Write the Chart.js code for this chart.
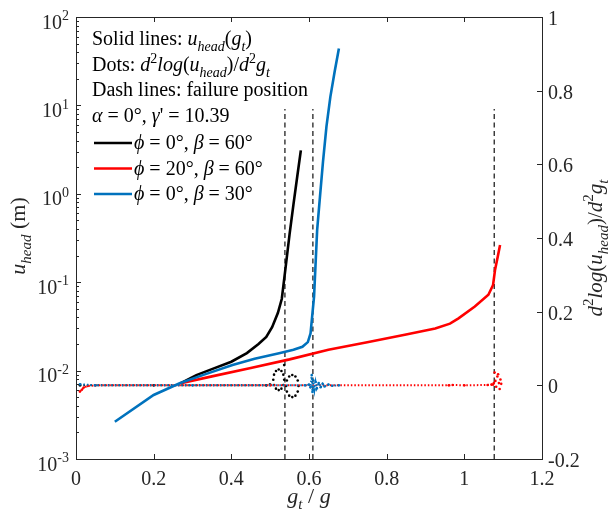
<!DOCTYPE html>
<html lang="en">
<head>
  <meta charset="UTF-8">
  <title>u_head vs g_t/g</title>
  <script src="https://cdn.jsdelivr.net/npm/chart.js"></script>
  <style>
    body { margin: 0; background: #fff; }
    canvas { display: block; }
  </style>
</head>
<body>
<canvas id="chart" width="609" height="515"></canvas>

<script>
  // ticks
  const xTicks = [0, 0.2, 0.4, 0.6, 0.8, 1, 1.2];
  const xTickLabels = ['0', '0.2', '0.4', '0.6', '0.8', '1', '1.2'];
  const leftExps = [-3, -2, -1, 0, 1, 2];
  const rightTicks = [-0.2, 0, 0.2, 0.4, 0.6, 0.8, 1];
  const rightTickLabels = ['-0.2', '0', '0.2', '0.4', '0.6', '0.8', '1'];

  // solid lines: u_head(g_t), left log axis
  const blackX = [0.27, 0.31, 0.35, 0.40, 0.44, 0.47, 0.49, 0.505, 0.52, 0.53, 0.54, 0.55, 0.56, 0.57, 0.579];
  const blackU = [0.0072, 0.0089, 0.0104, 0.0126, 0.0158, 0.0200, 0.0240, 0.031, 0.045, 0.065, 0.15, 0.35, 0.76, 1.6, 3.1];
  const redX = [0.27, 0.35, 0.45, 0.55, 0.65, 0.75, 0.85, 0.925, 0.963, 0.985, 1.027, 1.062, 1.074, 1.079, 1.086, 1.092];
  const redU = [0.0072, 0.0086, 0.0107, 0.0134, 0.0172, 0.0209, 0.0256, 0.030, 0.034, 0.039, 0.053, 0.072, 0.093, 0.137, 0.194, 0.264];
  const blueX = [0.1, 0.2, 0.267, 0.33, 0.403, 0.46, 0.523, 0.56, 0.583, 0.597, 0.604, 0.609, 0.613, 0.621, 0.628, 0.636, 0.645, 0.655, 0.666, 0.677];
  const blueU = [0.00264, 0.0053, 0.0072, 0.0090, 0.01156, 0.0136, 0.0157, 0.0172, 0.0186, 0.021, 0.0264, 0.045, 0.0686, 0.39, 0.9, 2.3, 5.8, 12.5, 24, 44];

  // dots: d2 log(u_head) / d2 g_t, right axis
  const blackDotX = [0.01, 0.2, 0.49, 0.5,
    0.536, 0.534, 0.529, 0.522, 0.515, 0.510, 0.508, 0.510, 0.515, 0.522, 0.529, 0.534,
    0.573, 0.571, 0.565, 0.557, 0.549, 0.543, 0.541, 0.543, 0.549, 0.557, 0.565, 0.571, 0.536];
  const blackDotY = [0, 0, 0, 0.002,
    0.015, 0.029, 0.039, 0.043, 0.039, 0.029, 0.015, 0.001, -0.009, -0.013, -0.009, 0.001,
    -0.002, 0.013, 0.024, 0.028, 0.024, 0.013, -0.002, -0.017, -0.028, -0.032, -0.028, -0.017, 0.055];
  const redDotX = [0.01, 0.015, 0.02, 0.03, 0.05, 0.5, 0.96, 0.97, 1.0, 1.06, 1.07, 1.074, 1.076, 1.078, 1.08, 1.082, 1.085, 1.087, 1.089, 1.091, 1.093, 1.095];
  const redDotY = [-0.017, -0.012, -0.006, -0.002, 0, 0, 0, 0.001, 0, 0.001, 0.002, 0.002, 0.006, 0.035, 0.012, -0.004, 0.024, 0.03, 0.006, -0.01, 0.016, 0.004];
  const blueDotX = [0.01, 0.05, 0.3, 0.59, 0.6, 0.604, 0.607, 0.609, 0.611, 0.614, 0.617, 0.62, 0.625, 0.63, 0.635, 0.64, 0.65, 0.66, 0.677];
  const blueDotY = [0.003, 0, 0, 0, 0.002, -0.006, 0.028, -0.018, 0.014, -0.012, 0.009, -0.008, 0.006, -0.005, 0.004, -0.003, 0.002, -0.001, 0];

  // dash lines: failure position
  const failX = [0.538, 0.61, 1.077];
  const failTop = 0.75;

  const BLACK = '#000000', RED = '#ff0000', BLUE = '#0072bd';
  const FONT = '"Liberation Serif", "DejaVu Serif", serif';

  const pts = (xs, ys) => xs.map((x, i) => ({ x: x, y: ys[i] }));

  function solid(data, color, order) {
    return { data: data, borderColor: color, borderWidth: 2.6, pointRadius: 0, yAxisID: 'y', order: order };
  }
  // scattered parts near failure: dots only, no connecting line
  function dots(data, color, order, scatterFrom) {
    return {
      data: data, borderColor: color, backgroundColor: color, borderWidth: 2,
      borderDash: [1.5, 2], pointRadius: 1.3, pointBorderWidth: 0, yAxisID: 'y2', order: order,
      segment: {
        borderColor: function (c) { return c.p0.parsed.x >= scatterFrom ? 'rgba(0,0,0,0)' : undefined; }
      }
    };
  }

  const datasets = [
    solid(pts(blueX, blueU), BLUE, 0),
    solid(pts(redX, redU), RED, 1),
    solid(pts(blackX, blackU), BLACK, 2),
    dots(pts(blueDotX, blueDotY), BLUE, 3, 9),
    dots(pts(redDotX, redDotY), RED, 4, 1.076),
    dots(pts(blackDotX, blackDotY), BLACK, 5, 0.5)
  ];
  failX.forEach(function (fx) {
    datasets.push({
      data: [{ x: fx, y: -0.2 }, { x: fx, y: failTop }],
      borderColor: '#222', borderWidth: 1.3, borderDash: [5, 3.5], pointRadius: 0, yAxisID: 'y2', order: 6
    });
  });

  // text with italic / sub / sup pieces: n normal, i italic, b italic subscript, p superscript
  function pieceFont(st, size) {
    const s = (st === 'b' || st === 'p') ? Math.round(size * 0.7) : size;
    const it = (st === 'i' || st === 'b') ? 'italic ' : '';
    return it + s + 'px ' + FONT;
  }
  function richWidth(ctx, parts, size) {
    let w = 0;
    parts.forEach(function (p) { ctx.font = pieceFont(p[1], size); w += ctx.measureText(p[0]).width; });
    return w;
  }
  function drawRich(ctx, parts, x, y, size) {
    ctx.textBaseline = 'alphabetic';
    ctx.textAlign = 'left';
    parts.forEach(function (p) {
      ctx.font = pieceFont(p[1], size);
      let dy = 0;
      if (p[1] === 'b') dy = size * 0.28;
      if (p[1] === 'p') dy = -size * 0.42;
      ctx.fillText(p[0], x, y + dy);
      x += ctx.measureText(p[0]).width;
    });
    return x;
  }

  const axesPlugin = {
    id: 'matlabAxes',
    afterDraw(chart) {
      const ctx = chart.ctx, a = chart.chartArea;
      const sx = chart.scales.x, sl = chart.scales.y, sr = chart.scales.y2;
      ctx.save();
      ctx.strokeStyle = '#262626';
      ctx.fillStyle = '#262626';
      ctx.lineWidth = 1;
      ctx.strokeRect(a.left + 0.5, a.top + 0.5, a.right - a.left, a.bottom - a.top);

      ctx.beginPath();
      xTicks.forEach(function (v) {
        const px = Math.round(sx.getPixelForValue(v)) + 0.5;
        ctx.moveTo(px, a.bottom); ctx.lineTo(px, a.bottom - 5);
        ctx.moveTo(px, a.top); ctx.lineTo(px, a.top + 5);
      });
      leftExps.forEach(function (e) {
        const py = Math.round(sl.getPixelForValue(Math.pow(10, e))) + 0.5;
        ctx.moveTo(a.left, py); ctx.lineTo(a.left + 5, py);
        if (e < 2) {
          for (let m = 2; m < 10; m++) {
            const my = Math.round(sl.getPixelForValue(m * Math.pow(10, e))) + 0.5;
            ctx.moveTo(a.left, my); ctx.lineTo(a.left + 3, my);
          }
        }
      });
      rightTicks.forEach(function (v) {
        const py = Math.round(sr.getPixelForValue(v)) + 0.5;
        ctx.moveTo(a.right, py); ctx.lineTo(a.right - 5, py);
      });
      ctx.stroke();

      // tick labels
      ctx.font = '20px ' + FONT;
      ctx.textBaseline = 'alphabetic';
      ctx.textAlign = 'center';
      xTicks.forEach(function (v, i) {
        ctx.fillText(xTickLabels[i], sx.getPixelForValue(v), a.bottom + 26);
      });
      ctx.textAlign = 'left';
      rightTicks.forEach(function (v, i) {
        ctx.fillText(rightTickLabels[i], a.right + 6, sr.getPixelForValue(v) + 8);
      });
      leftExps.forEach(function (e) {
        const parts = [['10', 'n'], [String(e), 'p']];
        const w = richWidth(ctx, parts, 20);
        drawRich(ctx, parts, a.left - 7 - w, sl.getPixelForValue(Math.pow(10, e)) + 11.5, 20);
      });

      // axis titles
      const xt = [['g', 'i'], ['t', 'b'], [' / ', 'n'], ['g', 'i']];
      drawRich(ctx, xt, (a.left + a.right) / 2 - richWidth(ctx, xt, 22) / 2, a.bottom + 44, 22);

      const lt = [['u', 'i'], ['head', 'b'], [' (m)', 'n']];
      ctx.save();
      ctx.translate(25, 236);
      ctx.rotate(-Math.PI / 2);
      drawRich(ctx, lt, -richWidth(ctx, lt, 22) / 2, 0, 22);
      ctx.restore();

      const rt = [['d', 'i'], ['2', 'p'], ['log', 'i'], ['(', 'n'], ['u', 'i'], ['head', 'b'], [')', 'n'],
                  ['/', 'n'], ['d', 'i'], ['2', 'p'], ['g', 'i'], ['t', 'b']];
      ctx.save();
      ctx.translate(602, 248);
      ctx.rotate(-Math.PI / 2);
      drawRich(ctx, rt, -richWidth(ctx, rt, 21) / 2, 0, 21);
      ctx.restore();

      // annotation and legend
      ctx.fillStyle = '#000';
      const L = 92, fs = 20;
      drawRich(ctx, [['Solid lines: ', 'n'], ['u', 'i'], ['head', 'b'], ['(', 'n'], ['g', 'i'], ['t', 'b'], [')', 'n']], L, 45, fs);
      drawRich(ctx, [['Dots: ', 'n'], ['d', 'i'], ['2', 'p'], ['log', 'i'], ['(', 'n'], ['u', 'i'], ['head', 'b'], [')', 'n'],
                     ['/', 'n'], ['d', 'i'], ['2', 'p'], ['g', 'i'], ['t', 'b']], L, 71, fs);
      drawRich(ctx, [['Dash lines: failure position', 'n']], L, 96, fs);
      drawRich(ctx, [['\u03b1', 'i'], [' = 0\u00b0, ', 'n'], ['\u03b3', 'i'], ["' = 10.39", 'n']], L, 122, fs);

      const items = [
        [BLACK, [['\u03d5', 'i'], [' = 0\u00b0, ', 'n'], ['\u03b2', 'i'], [' = 60\u00b0', 'n']]],
        [RED, [['\u03d5', 'i'], [' = 20\u00b0, ', 'n'], ['\u03b2', 'i'], [' = 60\u00b0', 'n']]],
        [BLUE, [['\u03d5', 'i'], [' = 0\u00b0, ', 'n'], ['\u03b2', 'i'], [' = 30\u00b0', 'n']]]
      ];
      items.forEach(function (it, i) {
        const by = 149 + i * 25.5;
        ctx.strokeStyle = it[0];
        ctx.lineWidth = 2.6;
        ctx.beginPath();
        ctx.moveTo(94, by - 6); ctx.lineTo(132, by - 6);
        ctx.stroke();
        drawRich(ctx, it[1], 134, by, fs);
      });
      ctx.restore();
    }
  };

  new Chart(document.getElementById('chart').getContext('2d'), {
    type: 'line',
    data: { datasets: datasets },
    options: {
      responsive: false,
      animation: false,
      devicePixelRatio: 1,
      layout: { padding: { left: 76, top: 17, right: 67, bottom: 56 } },
      plugins: { legend: { display: false }, tooltip: { enabled: false } },
      scales: {
        x: { type: 'linear', min: 0, max: 1.2, display: false },
        y: { type: 'logarithmic', position: 'left', min: 0.001, max: 100, display: false },
        y2: { type: 'linear', position: 'right', min: -0.2, max: 1, display: false }
      }
    },
    plugins: [axesPlugin]
  });
</script>
</body>
</html>
